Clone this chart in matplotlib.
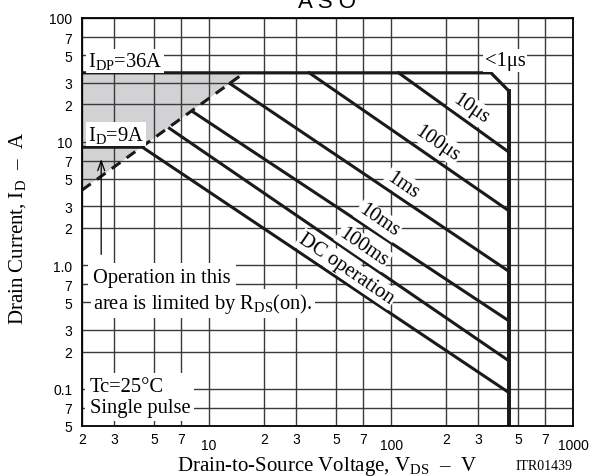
import numpy as np
import matplotlib.pyplot as plt

plt.rcParams['font.family'] = ['Liberation Serif', 'DejaVu Serif']
plt.rcParams['mathtext.fontset'] = 'custom'
plt.rcParams['mathtext.rm'] = 'Liberation Serif'
plt.rcParams['mathtext.it'] = 'Liberation Serif:italic'

# Datos (ASO)
# límite exterior: IDP, esquina y VDSS
limite_v = [2, 354, 445, 445]
limite_i = [36, 36, 25.6, 0.05]

# límite por RDS(on) (línea discontinua)
rds_v = [2, 15.6]
rds_i = [4.05, 36]

# líneas de pulso: inicio y fin
pulsos = ['10μs', '100μs', '1ms', '10ms', '100ms']
pulso_v0 = [110, 35.5, 13.0, 8.1, 6.05]
pulso_i0 = [36, 36, 29.5, 17.5, 12.8]
pulso_v1 = [445, 445, 445, 445, 445]
pulso_i1 = [8.2, 2.75, 0.89, 0.354, 0.168]

# operación DC (ID=9A)
dc_v = [2, 4.3, 445]
dc_i = [9, 9, 0.093]

# ticks
x_mayores = [10, 100, 1000]
x_menores = [2, 3, 5, 7, 20, 30, 50, 70, 200, 300, 500, 700]
x_menores_txt = ['2', '3', '5', '7', '2', '3', '5', '7', '2', '3', '5', '7']
y_ticks = [0.05, 0.07, 0.1, 0.2, 0.3, 0.5, 0.7, 1, 2, 3, 5, 7, 10, 20, 30, 50, 70, 100]
y_ticks_txt = ['5', '7', '0.1', '2', '3', '5', '7', '1.0', '2', '3', '5', '7',
               '10', '2', '3', '5', '7', '100']

fig = plt.figure(figsize=(5.9, 4.77), dpi=100)
ax = fig.add_axes([82/590, 1 - 427/477, 491/590, 408/477])
ax.set_xscale('log')
ax.set_yscale('log')
ax.set_xlim(2, 1000)
ax.set_ylim(0.05, 100)

# rejilla
ax.set_xticks(x_mayores)
ax.set_xticklabels(['10', '100', '1000'])
ax.set_xticks(x_menores, minor=True)
ax.set_xticklabels(x_menores_txt, minor=True)
ax.set_yticks(y_ticks)
ax.set_yticklabels(y_ticks_txt)
ax.set_yticks([], minor=True)
ax.grid(True, which='both', color='#3a3a3a', linewidth=1.0)
ax.set_axisbelow(True)
for lab in ax.get_xticklabels(which='both') + ax.get_yticklabels():
    lab.set_fontfamily('Liberation Sans')
    lab.set_fontsize(10)
ax.tick_params(axis='x', which='major', length=0, pad=9)
ax.tick_params(axis='x', which='minor', length=0, pad=4)
ax.tick_params(axis='y', length=0, pad=7)
for s in ax.spines.values():
    s.set_linewidth(1.3)

# zona limitada por RDS(on)
ax.fill([rds_v[0], rds_v[1], rds_v[0]], [rds_i[1], rds_i[1], rds_i[0]],
        color='#d2d2d4', zorder=0.2, linewidth=0)

ax.plot(limite_v, limite_i, color='#1a1a1a', lw=2.3, solid_joinstyle='miter')
ax.plot(rds_v, rds_i, color='#1a1a1a', lw=2.2, dashes=(3.5, 2.5))
for v0, i0, v1, i1 in zip(pulso_v0, pulso_i0, pulso_v1, pulso_i1):
    ax.plot([v0, v1], [i0, i1], color='#1a1a1a', lw=2.2)
ax.plot(dc_v, dc_i, color='#1a1a1a', lw=2.2)
ax.plot([445, 445], [25.6, 0.05], color='#1a1a1a', lw=2.8)

caja = dict(boxstyle='square,pad=0.08', fc='white', ec='none')
fs = 14.8

# etiquetas de las líneas
etiq_x = [273, 180, 116, 85.5, 70.6, 57]
etiq_y = [18.6, 9.8, 4.5, 2.31, 1.41, 0.935]
for txt, x, y in zip(pulsos + ['DC operation'], etiq_x, etiq_y):
    ax.text(x, y, txt, rotation=-34.3, rotation_mode='anchor', ha='center',
            va='center', fontsize=fs, bbox=caja)
ax.text(424, 45.2, '<1μs', ha='center', va='center', fontsize=fs, bbox=caja)

ax.text(2.15, 45, r'I$_{\rm DP}$=36A', ha='left', va='center', fontsize=fs, bbox=caja)
ax.text(2.15, 11.5, r'I$_{\rm D}$=9A', ha='left', va='center', fontsize=fs, bbox=caja)
ax.annotate('', xy=(2.55, 7.6), xytext=(2.55, 1.16),
            arrowprops=dict(arrowstyle='->,head_length=0.7,head_width=0.25',
                            lw=0.9, color='black'))
ax.text(2.3, 0.79, 'Operation in this', ha='left', va='center', fontsize=fs,
        bbox=dict(boxstyle='square,pad=0.25', fc='white', ec='none'))
ax.text(2.3, 0.49, r'area is limited by R$_{\rm DS}$(on).', ha='left', va='center',
        fontsize=fs, bbox=dict(boxstyle='square,pad=0.12', fc='white', ec='none'))
ax.text(2.2, 0.086, 'Tc=25°C\nSingle pulse', ha='left', va='center', fontsize=fs,
        linespacing=1.15, bbox=dict(boxstyle='square,pad=0.2', fc='white', ec='none'))

# títulos
fig.text(327/590, 1 - 8/477, 'A S O', ha='center', va='baseline',
         fontfamily='Liberation Sans', fontsize=16)
fig.text(327/590, 1 - 471/477, r'Drain-to-Source Voltage, V$_{\rm DS}$  –  V',
         ha='center', va='baseline', fontsize=15)
fig.text(573/590, 1 - 470/477, 'ITR01439', ha='right', va='baseline', fontsize=10)
fig.text(18/590, 1 - 228/477, r'Drain Current, I$_{\rm D}$  –  A', rotation=90,
         ha='center', va='center', fontsize=15)

plt.savefig('out.png', dpi=100)
